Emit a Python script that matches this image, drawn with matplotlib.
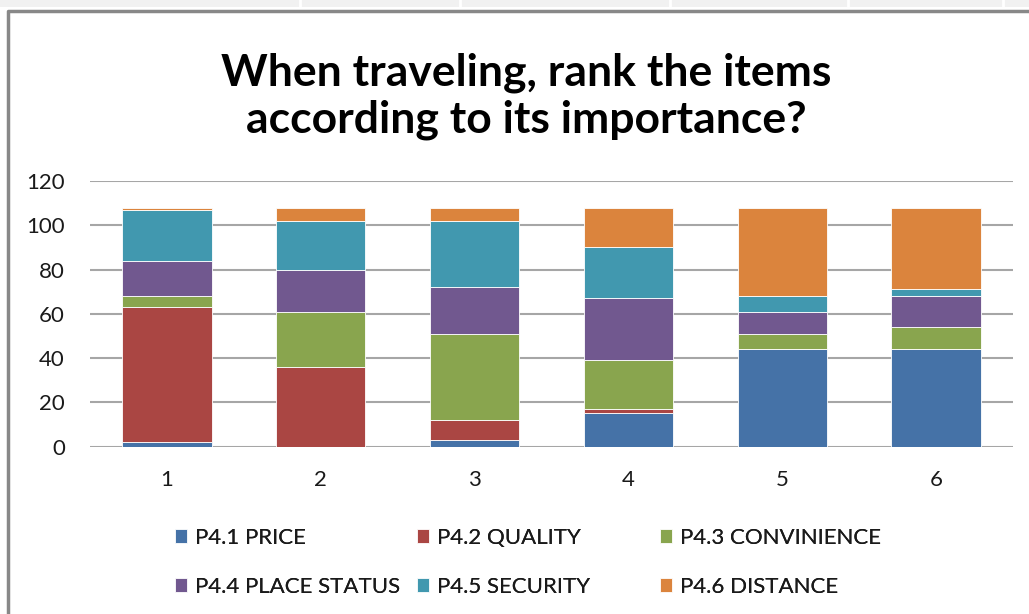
import matplotlib.pyplot as plt
import matplotlib.patches as mpatches
import numpy as np

plt.rcParams['font.family'] = ['Lato', 'DejaVu Sans']

ranks = ['1', '2', '3', '4', '5', '6']
series = ['P4.1 PRICE', 'P4.2 QUALITY', 'P4.3 CONVINIENCE',
          'P4.4 PLACE STATUS', 'P4.5 SECURITY', 'P4.6 DISTANCE']
price = [2, 0, 3, 15, 44, 44]
quality = [61, 36, 9, 2, 0, 0]
convinience = [5, 25, 39, 22, 7, 10]
place_status = [16, 19, 21, 28, 10, 14]
security = [23, 22, 30, 23, 7, 3]
distance = [1, 6, 6, 18, 40, 37]
colors = ['#4572A7', '#AA4643', '#89A54E', '#71588F', '#4198AF', '#DB843D']

fig = plt.figure(figsize=(10.29, 6.14), dpi=100)

# spreadsheet strip and chart frame
fig.patches.append(mpatches.Rectangle((0, 1 - 7 / 614), 1, 7 / 614, transform=fig.transFigure,
                                      facecolor='#F1F1F1', edgecolor='none'))
for sx in [300, 460, 670, 848, 1003]:
    fig.add_artist(plt.Line2D([sx / 1029, sx / 1029], [1 - 7 / 614, 1], transform=fig.transFigure,
                              color='white', lw=2))
fig.add_artist(plt.Line2D([8 / 1029, 8 / 1029, 1], [0, 1 - 11 / 614, 1 - 11 / 614],
                          transform=fig.transFigure, color='#888888', lw=2.5))

ax = fig.add_axes([90 / 1029, 1 - 446.7 / 614, 923 / 1029, 265.7 / 614])

x = np.arange(1, len(ranks) + 1)
data = [price, quality, convinience, place_status, security, distance]
bottom = np.zeros(len(ranks))
handles = []
for vals, name, c in zip(data, series, colors):
    b = ax.bar(x, vals, 0.58, bottom=bottom, color=c, edgecolor='white', linewidth=0.6,
               label=name, zorder=3)
    handles.append(b)
    bottom += np.array(vals)

ax.set_xlim(0.5, 6.5)
ax.set_ylim(0, 120)
ax.set_yticks(range(0, 121, 20))
ax.set_xticks(x)
ax.set_xticklabels(ranks)
ax.grid(axis='y', color='#A6A6A6', lw=1.5, zorder=0)
for s in ax.spines.values():
    s.set_visible(False)
ax.tick_params(length=0, labelsize=16, colors='#1a1a1a')
ax.tick_params(axis='y', pad=18)
ax.tick_params(axis='x', pad=17)

fig.text(526 / 1029, 1 - 96 / 614, 'When traveling, rank the items\naccording to its importance?',
         ha='center', va='center', fontsize=32, fontweight='bold', linespacing=1.2)

# legend: three equal-width columns, two rows
col_x = [175 / 1029, 417 / 1029, 660 / 1029]
for i, cx in enumerate(col_x):
    lg = fig.legend([handles[i], handles[i + 3]], [series[i], series[i + 3]],
                    loc='upper left', bbox_to_anchor=(cx, 1 - 528 / 614), frameon=False,
                    fontsize=16, handlelength=0.55, handleheight=0.55, handletextpad=0.35,
                    labelspacing=1.3, borderaxespad=0, borderpad=0)
    for t in lg.get_texts():
        t.set_color('#1a1a1a')
    fig.add_artist(lg)

fig.savefig('out.png', dpi=100)
